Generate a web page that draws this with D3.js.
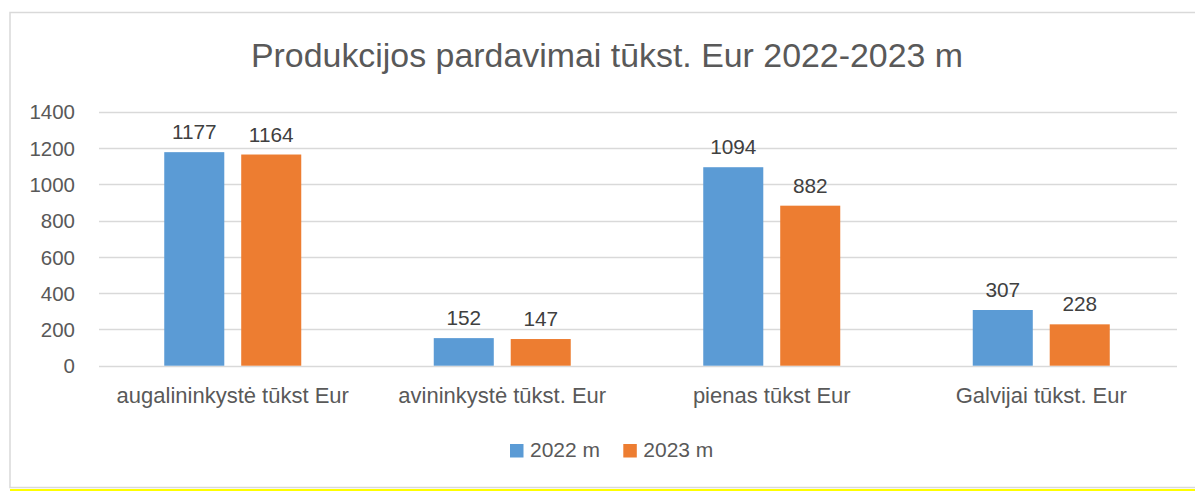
<!DOCTYPE html>
<html>
<head>
<meta charset="utf-8">
<script src="https://cdn.jsdelivr.net/npm/d3@7"></script>
<style>
  html, body { margin: 0; padding: 0; background: #fff; }
  svg { display: block; }
  text { font-family: "Liberation Sans", Arial, sans-serif; }
</style>
</head>
<body>
<svg id="chart" width="1195" height="491"></svg>
<script>
const title = "Produkcijos pardavimai tūkst. Eur 2022-2023 m";
const categories = ["augalininkystė tūkst Eur", "avininkystė tūkst. Eur", "pienas tūkst Eur", "Galvijai tūkst. Eur"];
const seriesNames = ["2022 m", "2023 m"];
const values2022 = [1177, 152, 1094, 307];
const values2023 = [1164, 147, 882, 228];
const yTicks = [0, 200, 400, 600, 800, 1000, 1200, 1400];
const colors = ["#5B9BD5", "#ED7D31"];

const seriesValues = [values2022, values2023];
const svg = d3.select("#chart");

// outer frame
svg.append("rect").attr("x", 10).attr("y", 12.5).attr("width", 1210).attr("height", 475)
  .attr("fill", "#fff").attr("stroke", "#d9d9d9").attr("stroke-width", 1.5);
svg.append("rect").attr("x", 10).attr("y", 489).attr("width", 1185).attr("height", 2.5).attr("fill", "#ffff00");

const x0 = d3.scaleBand().domain(categories).range([99, 1177]).paddingInner(0).paddingOuter(0);
const x1 = d3.scaleBand().domain(seriesNames).range([-68.5, 68.5]).paddingInner(0.22).paddingOuter(0);
const y = d3.scaleLinear().domain([0, 1400]).range([365.7, 111.7]);

// gridlines
svg.append("g").selectAll("line").data(yTicks).join("line")
  .attr("x1", 99).attr("x2", 1177)
  .attr("y1", d => Math.round(y(d)) + 0.5).attr("y2", d => Math.round(y(d)) + 0.5)
  .attr("stroke", "#d9d9d9").attr("stroke-width", 1.3);

// y axis labels
const yAxis = d3.axisLeft(y).tickValues(yTicks).tickFormat(d3.format("d")).tickSize(0).tickPadding(0);
const gy = svg.append("g").attr("transform", "translate(75,0)").call(yAxis);
gy.select(".domain").remove();
gy.selectAll("text").attr("font-size", 20.5).attr("fill", "#595959")
  .attr("font-family", "'Liberation Sans', Arial, sans-serif").attr("dy", "0.35em");

// bars
const groups = svg.append("g").selectAll("g").data(categories).join("g")
  .attr("transform", d => `translate(${x0(d) + x0.bandwidth() / 2 - 1},0)`);
groups.selectAll("rect").data((d, i) => seriesNames.map((s, j) => ({ s, j, v: seriesValues[j][i] })))
  .join("rect")
  .attr("x", d => x1(d.s)).attr("width", x1.bandwidth())
  .attr("y", d => y(d.v)).attr("height", d => y(0) - y(d.v))
  .attr("fill", d => colors[d.j]);
groups.selectAll("text.val").data((d, i) => seriesNames.map((s, j) => ({ s, j, v: seriesValues[j][i] })))
  .join("text").attr("class", "val")
  .attr("x", d => x1(d.s) + x1.bandwidth() / 2).attr("y", d => y(d.v) - 13)
  .attr("text-anchor", "middle").attr("font-size", 20.8).attr("fill", "#404040")
  .text(d => d.v);

// category labels
const xAxis = d3.axisBottom(x0).tickSize(0).tickPadding(0);
const gx = svg.append("g").attr("transform", "translate(-1,0)").call(xAxis);
gx.select(".domain").remove();
gx.selectAll("text").attr("y", 403).attr("dy", 0).attr("font-size", 22).attr("fill", "#595959")
  .attr("font-family", "'Liberation Sans', Arial, sans-serif");

// title
svg.append("text").attr("x", 607).attr("y", 67).attr("text-anchor", "middle")
  .attr("font-size", 33.9).attr("fill", "#595959").text(title);

// legend
const legendX = [510, 623.3];
const lg = svg.append("g").selectAll("g").data(seriesNames).join("g")
  .attr("transform", (d, i) => `translate(${legendX[i]},0)`);
lg.append("rect").attr("x", 0).attr("y", 444).attr("width", 13.5).attr("height", 13.5)
  .attr("fill", (d, i) => colors[i]);
lg.append("text").attr("x", 20).attr("y", 456.5).attr("font-size", 21).attr("fill", "#595959").text(d => d);
</script>
</body>
</html>
